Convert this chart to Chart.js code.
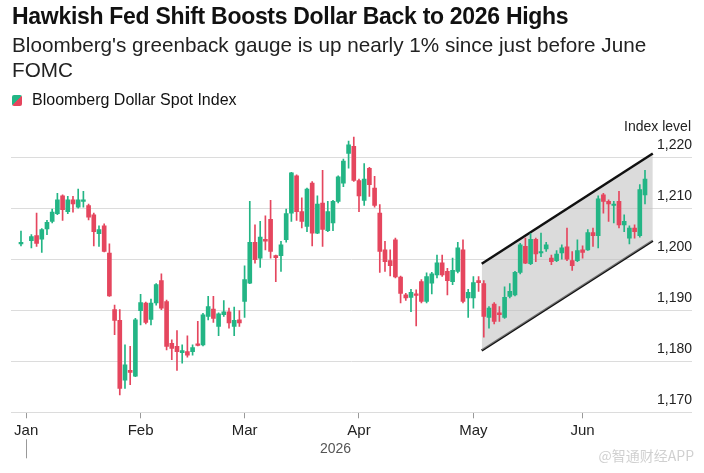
<!DOCTYPE html>
<html>
<head>
<meta charset="utf-8">
<script src="https://cdn.jsdelivr.net/npm/chart.js@4.4.1/dist/chart.umd.min.js"></script>
<style>
  html, body { margin: 0; padding: 0; background: #fff; }
  body { width: 704px; height: 473px; position: relative; overflow: hidden; font-family: "Liberation Sans", Arial, sans-serif; color: #111; }
  #title { position: absolute; left: 12px; top: 2px; font-weight: bold; font-size: 23px; line-height: 28px; letter-spacing: -0.3px; white-space: nowrap; }
  #sub { position: absolute; left: 12px; top: 32px; width: 650px; font-size: 20.7px; line-height: 25px; color: #222; }
  #legend { position: absolute; left: 12px; top: 90px; font-size: 16px; line-height: 19px; color: #111; }
  #legend .sw { display: inline-block; width: 10px; height: 11px; border-radius: 2px; vertical-align: -1px; margin-right: 10px;
    background: linear-gradient(to bottom right, #23b585 50%, #e5465e 50%); }
  #wm { position: absolute; right: 10px; bottom: 8px; font-family: "Noto Sans CJK SC", sans-serif; font-size: 14px; color: rgba(170,170,170,0.55); }
  #wrap { position: absolute; left: 0; top: 0; width: 704px; height: 473px; }
</style>
</head>
<body>
<div id="wrap"><canvas id="chart"></canvas></div>
<div id="title">Hawkish Fed Shift Boosts Dollar Back to 2026 Highs</div>
<div id="sub">Bloomberg's greenback gauge is up nearly 1% since just before June FOMC</div>
<div id="legend"><span class="sw"></span>Bloomberg Dollar Spot Index</div>
<div id="wm">@智通财经APP</div>
<script>
// trading days: weekdays from 31 Dec 2025 to 17 Jun 2026 (no print on 1 Jan)
const firstDay = '2025-12-31';
const lastDay = '2026-06-17';
const monthNames = ['Jan', 'Feb', 'Mar', 'Apr', 'May', 'Jun', 'Jul', 'Aug', 'Sep', 'Oct', 'Nov', 'Dec'];
const yearLabel = '2026';
const yTicks = [1170, 1180, 1190, 1200, 1210, 1220];

// daily OHLC, one entry per weekday (null = no data)
const open = [
  1203.0, null, 1203.6, 1204.6, 1203.9, 1205.9, 1207.4, 1208.9, 1212.4, 1209.3,
  1211.6, 1210.2, 1211.3, 1210.5, 1208.7, 1205.0, 1206.5, 1201.2, 1190.1, 1188.0,
  1176.3, 1178.2, 1177.1, 1189.9, 1191.4, 1188.2, 1191.4, 1195.8, 1191.7, 1183.5,
  1182.9, 1181.7, 1181.9, 1181.9, 1183.3, 1183.2, 1188.8, 1190.2, 1186.8, 1189.1,
  1189.7, 1186.8, 1188.1, 1191.7, 1195.3, 1203.3, 1200.2, 1203.9, 1207.8, 1200.7,
  1200.7, 1203.8, 1209.0, 1216.3, 1209.3, 1206.4, 1214.9, 1205.1, 1211.0, 1205.6,
  1207.1, 1211.3, 1214.9, 1220.7, 1222.1, 1215.4, 1211.5, 1217.8, 1213.9, 1209.0,
  1201.8, 1199.7, 1203.8, 1196.5, 1193.0, 1192.5, 1193.1, 1195.6, 1191.7, 1195.3,
  1196.9, 1199.3, 1197.6, 1195.6, 1197.6, 1201.8, 1192.4, 1192.4, 1195.8, 1195.2,
  1188.6, 1191.2, 1189.5, 1188.6, 1192.7, 1193.0, 1197.4, 1202.5, 1199.1, 1203.9,
  1201.2, 1202.0, 1200.2, 1199.7, 1201.2, 1202.4, 1199.7, 1199.7, 1201.8, 1201.8,
  1205.2, 1204.6, 1212.6, 1211.3, 1210.5, 1211.3, 1206.7, 1204.1, 1206.1, 1204.6,
  1212.6
];
const high = [
  1205.5, null, 1204.8, 1209.0, 1206.0, 1207.6, 1209.8, 1212.9, 1212.6, 1212.3,
  1212.3, 1213.7, 1213.3, 1210.8, 1209.0, 1206.5, 1206.9, 1203.0, 1191.0, 1190.1,
  1183.2, 1182.9, 1188.4, 1193.1, 1191.6, 1192.2, 1195.2, 1197.1, 1192.0, 1184.2,
  1186.0, 1183.2, 1185.0, 1183.2, 1187.8, 1189.4, 1192.7, 1192.7, 1189.5, 1191.9,
  1190.4, 1190.6, 1189.9, 1198.7, 1211.3, 1206.7, 1207.4, 1208.5, 1211.5, 1200.8,
  1203.5, 1209.8, 1217.0, 1216.5, 1212.0, 1213.9, 1215.2, 1212.4, 1217.4, 1211.3,
  1211.5, 1216.3, 1219.6, 1223.1, 1223.9, 1215.7, 1218.7, 1218.0, 1216.2, 1210.7,
  1203.5, 1201.8, 1204.1, 1196.7, 1193.3, 1194.1, 1194.0, 1196.0, 1197.3, 1197.4,
  1200.8, 1200.8, 1198.2, 1200.2, 1203.3, 1203.8, 1194.1, 1196.6, 1196.6, 1195.8,
  1190.7, 1191.5, 1190.7, 1194.6, 1195.2, 1197.6, 1203.1, 1204.1, 1205.0, 1204.1,
  1205.1, 1203.3, 1200.8, 1201.7, 1202.8, 1206.1, 1201.5, 1203.8, 1202.6, 1205.8,
  1206.1, 1212.4, 1212.9, 1211.6, 1211.3, 1213.3, 1208.7, 1206.5, 1206.7, 1214.6,
  1217.4
];
const low = [
  1202.6, null, 1202.2, 1202.5, 1201.3, 1204.8, 1207.1, 1208.7, 1207.6, 1208.9,
  1209.2, 1210.0, 1210.2, 1207.7, 1202.6, 1202.5, 1201.4, 1192.7, 1185.2, 1173.4,
  1174.7, 1175.4, 1177.0, 1187.1, 1187.3, 1187.1, 1191.0, 1190.1, 1182.2, 1180.3,
  1178.2, 1179.6, 1180.8, 1181.2, 1183.0, 1183.0, 1188.1, 1187.6, 1185.0, 1188.8,
  1186.5, 1185.0, 1186.8, 1188.6, 1195.2, 1199.2, 1198.4, 1201.8, 1200.2, 1195.6,
  1197.6, 1203.3, 1207.4, 1207.6, 1206.1, 1205.4, 1202.6, 1205.0, 1202.5, 1205.4,
  1205.6, 1211.0, 1214.2, 1217.8, 1215.2, 1209.3, 1210.5, 1212.3, 1210.2, 1197.4,
  1197.6, 1196.7, 1196.3, 1191.4, 1191.9, 1189.7, 1186.9, 1191.4, 1191.4, 1193.2,
  1196.3, 1196.6, 1193.0, 1195.0, 1197.3, 1191.4, 1188.6, 1190.4, 1193.7, 1184.7,
  1186.5, 1187.3, 1187.8, 1188.4, 1192.4, 1192.8, 1197.1, 1199.1, 1198.9, 1199.5,
  1200.5, 1201.5, 1198.9, 1199.5, 1200.0, 1199.7, 1197.8, 1199.5, 1200.2, 1201.7,
  1202.5, 1202.2, 1209.0, 1207.4, 1207.1, 1206.1, 1205.4, 1203.0, 1204.1, 1204.3,
  1210.8
];
const close = [
  1203.3, null, 1204.4, 1203.1, 1205.8, 1207.2, 1209.2, 1211.6, 1209.7, 1211.6,
  1210.8, 1211.6, 1211.6, 1208.2, 1205.4, 1205.8, 1201.5, 1192.8, 1188.0, 1174.7,
  1179.3, 1177.8, 1188.1, 1191.5, 1187.6, 1191.4, 1195.0, 1190.4, 1182.9, 1182.5,
  1181.9, 1182.1, 1181.2, 1182.7, 1183.1, 1189.1, 1190.7, 1188.4, 1189.3, 1189.7,
  1187.5, 1188.0, 1187.5, 1196.0, 1203.3, 1199.9, 1204.3, 1203.5, 1201.5, 1200.3,
  1202.8, 1208.9, 1216.9, 1209.3, 1207.4, 1213.7, 1205.1, 1210.8, 1205.8, 1209.3,
  1211.3, 1216.1, 1219.2, 1222.4, 1215.4, 1212.4, 1215.7, 1214.6, 1210.5, 1201.5,
  1199.5, 1198.7, 1196.5, 1193.3, 1192.4, 1193.5, 1192.9, 1191.7, 1196.6, 1197.1,
  1199.3, 1196.9, 1195.8, 1197.8, 1202.2, 1191.7, 1193.5, 1195.4, 1195.4, 1188.8,
  1190.4, 1187.8, 1189.1, 1192.5, 1193.7, 1197.4, 1202.8, 1199.2, 1203.9, 1201.0,
  1201.5, 1202.8, 1199.5, 1201.0, 1202.2, 1200.0, 1198.7, 1201.7, 1201.3, 1205.2,
  1204.6, 1211.8, 1211.3, 1210.8, 1210.7, 1206.7, 1207.4, 1206.1, 1205.4, 1213.6,
  1215.7
];

// rising channel drawn on the chart (x in trading-day index)
const channelX = [88.6, 121.5];
const channelUpper = [1199.1, 1220.7];
const channelLower = [1182.1, 1203.6];

const upColor = '#23b585';
const downColor = '#e5465e';

// build list of weekdays
const dates = [];
for (let d = new Date(firstDay + 'T12:00:00Z'); d <= new Date(lastDay + 'T12:00:00Z'); d.setUTCDate(d.getUTCDate() + 1)) {
    const wd = d.getUTCDay();
    if (wd !== 0 && wd !== 6) dates.push(new Date(d));
}

// first weekday of each month -> axis tick
const monthTicks = [];
dates.forEach((d, i) => {
    if (i > 0 && d.getUTCMonth() !== dates[i - 1].getUTCMonth()) {
        monthTicks.push({ value: i, label: monthNames[d.getUTCMonth()] });
    }
});

const wicks = [], bodies = [], colors = [];
dates.forEach((d, i) => {
    if (open[i] == null) return;
    wicks.push({ x: i, y: [low[i], high[i]] });
    bodies.push({ x: i, y: [Math.min(open[i], close[i]), Math.max(open[i], close[i])] });
    colors.push(close[i] >= open[i] ? upColor : downColor);
});

Chart.defaults.font.family = '"Liberation Sans", Arial, sans-serif';

const extras = {
    id: 'extras',
    afterDraw(chart) {
        const ctx = chart.ctx;
        const xs = chart.scales.x;
        const area = chart.chartArea;
        ctx.save();
        // y axis unit
        ctx.fillStyle = '#222';
        ctx.font = '14px "Liberation Sans", Arial, sans-serif';
        ctx.textAlign = 'right';
        ctx.textBaseline = 'middle';
        ctx.fillText('Index level', area.right - 1, 127);
        // year row
        const jan = xs.getPixelForValue(monthTicks[0].value);
        ctx.strokeStyle = '#999';
        ctx.lineWidth = 1;
        ctx.beginPath();
        ctx.moveTo(Math.round(jan) + 0.5, area.bottom + 27);
        ctx.lineTo(Math.round(jan) + 0.5, area.bottom + 46);
        ctx.stroke();
        const last = xs.getPixelForValue(dates.length - 1);
        ctx.fillStyle = '#555';
        ctx.textAlign = 'center';
        ctx.fillText(yearLabel, (jan + last) / 2, area.bottom + 37);
        ctx.restore();
    }
};

new Chart(document.getElementById('chart'), {
    type: 'bar',
    data: {
        datasets: [
            {
                type: 'line',
                data: channelX.map((x, k) => ({ x: x, y: channelUpper[k] })),
                borderColor: '#111',
                borderWidth: 2.5,
                pointRadius: 0,
                fill: '+1',
                backgroundColor: 'rgba(190,190,190,0.55)',
                order: 3
            },
            {
                type: 'line',
                data: channelX.map((x, k) => ({ x: x, y: channelLower[k] })),
                borderColor: '#111',
                borderWidth: 2.5,
                pointRadius: 0,
                fill: false,
                order: 3
            },
            {
                data: wicks,
                backgroundColor: colors,
                barThickness: 1,
                grouped: false,
                order: 2
            },
            {
                data: bodies,
                backgroundColor: colors,
                barThickness: 4,
                minBarLength: 1.5,
                grouped: false,
                order: 1
            }
        ]
    },
    options: {
        responsive: true,
        maintainAspectRatio: false,
        animation: false,
        layout: { padding: { top: 131.5, left: 11, right: 12, bottom: 0 } },
        plugins: { legend: { display: false }, tooltip: { enabled: false } },
        scales: {
            x: {
                type: 'linear',
                offset: false,
                min: -1.92,
                max: 129.04,
                afterBuildTicks: scale => { scale.ticks = monthTicks.map(t => ({ value: t.value })); },
                afterFit: scale => { scale.height = 60.7; },
                grid: { offset: false, drawOnChartArea: false, drawTicks: true, tickLength: 6, color: '#999' },
                border: { display: false },
                ticks: {
                    autoSkip: false,
                    maxRotation: 0,
                    padding: 4,
                    color: '#222',
                    font: { size: 15 },
                    callback: v => {
                        const t = monthTicks.find(m => m.value === v);
                        return t ? t.label : '';
                    }
                }
            },
            y: {
                position: 'right',
                min: 1170,
                max: 1225,
                afterBuildTicks: scale => { scale.ticks = yTicks.map(v => ({ value: v })); },
                afterFit: scale => { scale.width = 0; },
                grid: { color: '#dcdcdc', drawTicks: false },
                border: { display: false },
                ticks: {
                    mirror: true,
                    padding: 0,
                    labelOffset: -12,
                    color: '#222',
                    font: { size: 14 },
                    callback: v => v.toLocaleString('en-US')
                }
            }
        }
    },
    plugins: [extras]
});
</script>
</body>
</html>
